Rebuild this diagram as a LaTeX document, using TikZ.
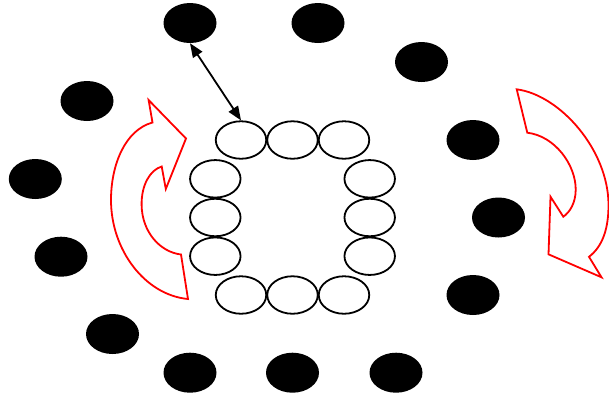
\documentclass[tikz,border=0pt]{standalone}
\usetikzlibrary{shapes.geometric,arrows.meta}
\begin{document}
\begin{tikzpicture}[x=1pt,y=-1pt,
  blk/.style={ellipse,fill=black,draw=none,minimum width=53pt,minimum height=40pt,inner sep=0pt},
  wht/.style={ellipse,draw=black,fill=white,line width=1.8pt,minimum width=50.5pt,minimum height=37.5pt,inner sep=0pt},
  rot/.style={draw=red,line width=1.8pt,line join=miter},
  link/.style={line width=1.8pt,{Triangle[length=14pt,width=11pt]}-{Triangle[length=14pt,width=11pt]}}]
\useasboundingbox (0,0) rectangle (609,400);
% black ellipses
\node[blk] (b1) at (190,23) {};
\node[blk] (b2) at (318,23) {};
\node[blk] (b3) at (421.5,62) {};
\node[blk] (b4) at (473,140) {};
\node[blk] (b5) at (498.5,217.5) {};
\node[blk] (b6) at (473,295) {};
\node[blk] (b7) at (396,372.7) {};
\node[blk] (b8) at (292.5,372.7) {};
\node[blk] (b9) at (190,372.7) {};
\node[blk] (b10) at (112.5,334) {};
\node[blk] (b11) at (61,256.7) {};
\node[blk] (b12) at (35.3,179) {};
\node[blk] (b13) at (87,101) {};
% white ellipses
\node[wht] (w1) at (241,140) {};
\node[wht] (w2) at (292.5,140) {};
\node[wht] (w3) at (344,140) {};
\node[wht] (w4) at (215.3,178.8) {};
\node[wht] (w5) at (215.3,217.5) {};
\node[wht] (w6) at (215.3,256.2) {};
\node[wht] (w7) at (369.7,178.8) {};
\node[wht] (w8) at (369.7,217.5) {};
\node[wht] (w9) at (369.7,256.2) {};
\node[wht] (w10) at (241,295) {};
\node[wht] (w11) at (292.5,295) {};
\node[wht] (w12) at (344,295) {};
% connector
\draw[link] (b1.south) -- (w1.north);
% left curved arrow
\draw[rot] (188,299) -- (181,254.5)
  .. controls (160,252) and (142,232) .. (141.6,205)
  .. controls (141.3,185) and (150,170) .. (161.7,166.5)
  -- (165.8,189) -- (186,138.5) -- (148.6,100) -- (152.5,122.5)
  .. controls (125,130) and (111,165) .. (111,200)
  .. controls (111,250) and (145,295) .. cycle;
% right curved arrow
\draw[rot] (516.7,89.3) -- (527.3,132.7)
  .. controls (555,136) and (576,165) .. (575.7,190)
  .. controls (575.5,203) and (570,212) .. (563.3,216.7)
  -- (550.5,196.7) -- (548.5,254.3) -- (601.5,277.3) -- (589,256.8)
  .. controls (603,246) and (608.5,228) .. (608.5,205)
  .. controls (608.5,150) and (560,95) .. cycle;
\end{tikzpicture}
\end{document}
